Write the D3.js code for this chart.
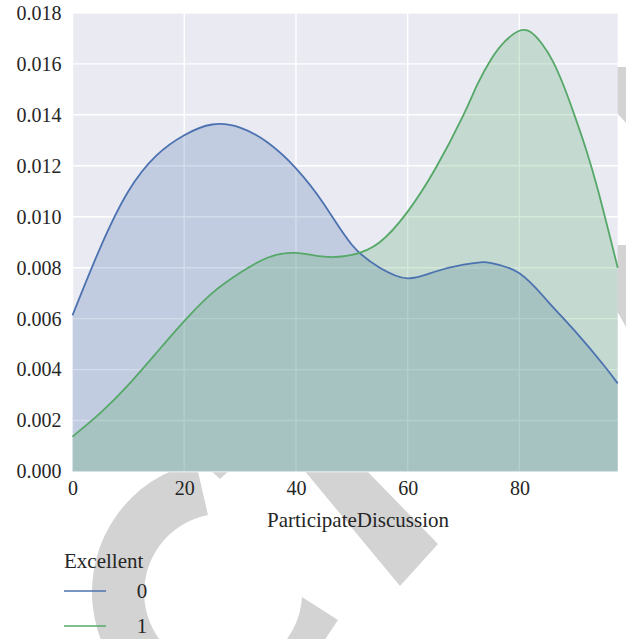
<!DOCTYPE html>
<html>
<head>
<meta charset="utf-8">
<script src="https://cdn.jsdelivr.net/npm/d3@7"></script>
<style>
  html, body { margin: 0; padding: 0; background: #fff; }
  svg { display: block; }
  text { font-family: "Liberation Serif", "Times New Roman", serif; fill: #262626; }
</style>
</head>
<body>
<svg id="chart" width="626" height="639"></svg>
<script>
// Density estimates of ParticipateDiscussion, split by Excellent (0 / 1)
const gridX = [0, 5, 10, 15, 20, 25, 30, 35, 40, 45, 50, 55, 60, 65, 70, 73, 75, 80, 85, 90, 95, 97.6];
const density0 = [0.00613, 0.0088, 0.0110, 0.0124, 0.0132, 0.01362, 0.01350, 0.0129, 0.0119, 0.0105,
                  0.0089, 0.0080, 0.00758, 0.00785, 0.00812, 0.00821, 0.00818, 0.00778, 0.0067, 0.0055,
                  0.0042, 0.00346];
const gridX1 = [0, 5, 10, 15, 20, 25, 30, 35, 40, 45, 50, 55, 60, 65, 70, 72.5, 75, 77.5, 80, 82, 84, 86, 88, 90, 92, 94, 96, 97.6];
const density1 = [0.00137, 0.0023, 0.0034, 0.00465, 0.0059, 0.0070, 0.0078, 0.0084, 0.00858, 0.00843,
                  0.0085, 0.0090, 0.0102, 0.0119, 0.0140, 0.0152, 0.0162, 0.0169, 0.0173, 0.01725,
                  0.0168, 0.0161, 0.0151, 0.0139, 0.0126, 0.0111, 0.0094, 0.0080];
const groups = ["0", "1"];
const colors = ["#4c72b0", "#55a868"];
const xTicks = [0, 20, 40, 60, 80];
const yTicks = [0, 0.002, 0.004, 0.006, 0.008, 0.010, 0.012, 0.014, 0.016, 0.018];
const xLabel = "ParticipateDiscussion";
const legendTitle = "Excellent";

const svg = d3.select("#chart");

// Light grey decorative shapes sitting behind the axes
const deco = svg.append("g").attr("fill", "#d3d3d3");
deco.append("path").attr("d",
  "M196,463 A132,132 0 0 0 225,724 L310,662 L338,620 L302,597 A79,79 0 1 1 208,515 Z");
deco.append("path").attr("d", "M246,400 L298,400 L438,544 L400,586 Z");
deco.append("path").attr("d", "M210,470 L230,470 L220,479 Z");
deco.append("path").attr("d", "M617,67 L626,67 L626,123 L617,113 Z");
deco.append("path").attr("d", "M617,245 L626,245 L626,327 L617,311 Z");

const x = d3.scaleLinear().domain([0, 97.6]).range([72.5, 617.7]);
const y = d3.scaleLinear().domain([0, 0.018]).range([471.5, 12.9]);

const plot = svg.append("g");
plot.append("rect")
  .attr("x", x.range()[0]).attr("y", 13.3)
  .attr("width", x.range()[1] - x.range()[0])
  .attr("height", y(0) - 13.3)
  .attr("fill", "#eaeaf2");

// White grid
plot.append("g").selectAll("line").data(xTicks).join("line")
  .attr("x1", d => x(d)).attr("x2", d => x(d))
  .attr("y1", 13.3).attr("y2", y(0))
  .attr("stroke", "#fff").attr("stroke-width", 1.4);
plot.append("g").selectAll("line").data(yTicks).join("line")
  .attr("x1", x.range()[0]).attr("x2", x.range()[1])
  .attr("y1", d => y(d)).attr("y2", d => y(d))
  .attr("stroke", "#fff").attr("stroke-width", 1.4);

const series = [
  gridX.map((v, i) => [v, density0[i]]),
  gridX1.map((v, i) => [v, density1[i]])
];

const area = d3.area().x(d => x(d[0])).y0(y(0)).y1(d => y(d[1])).curve(d3.curveNatural);
const line = d3.line().x(d => x(d[0])).y(d => y(d[1])).curve(d3.curveNatural);

series.forEach((s, i) => {
  plot.append("path").attr("d", area(s)).attr("fill", colors[i]).attr("fill-opacity", 0.25);
});
series.forEach((s, i) => {
  plot.append("path").attr("d", line(s)).attr("fill", "none")
    .attr("stroke", colors[i]).attr("stroke-width", 1.8);
});

// Axes (labels only, no tick marks or spines)
const xAxis = svg.append("g").attr("transform", `translate(0,${y(0)})`)
  .call(d3.axisBottom(x).tickValues(xTicks).tickSize(0).tickPadding(10).tickFormat(d3.format("d")));
const yAxis = svg.append("g").attr("transform", `translate(${x.range()[0]},0)`)
  .call(d3.axisLeft(y).tickValues(yTicks).tickSize(0).tickPadding(11).tickFormat(d3.format(".3f")));
[xAxis, yAxis].forEach(a => {
  a.select(".domain").remove();
  a.selectAll("text").style("font-family", '"Liberation Serif", serif').style("font-size", "20px").attr("fill", "#262626");
});
xAxis.selectAll("text").attr("dy", "0.68em");

svg.append("text").attr("x", 358).attr("y", 527)
  .attr("text-anchor", "middle").style("font-size", "21px").text(xLabel);

// Legend
const lg = svg.append("g");
lg.append("text").attr("x", 64).attr("y", 568).style("font-size", "21px").text(legendTitle);
groups.forEach((g, i) => {
  const ly = 591 + i * 35;
  lg.append("line").attr("x1", 64).attr("x2", 106).attr("y1", ly).attr("y2", ly)
    .attr("stroke", colors[i]).attr("stroke-width", 1.5);
  lg.append("text").attr("x", 142).attr("y", ly + 6.5).attr("text-anchor", "middle")
    .style("font-size", "21px").text(g);
});
</script>
</body>
</html>
